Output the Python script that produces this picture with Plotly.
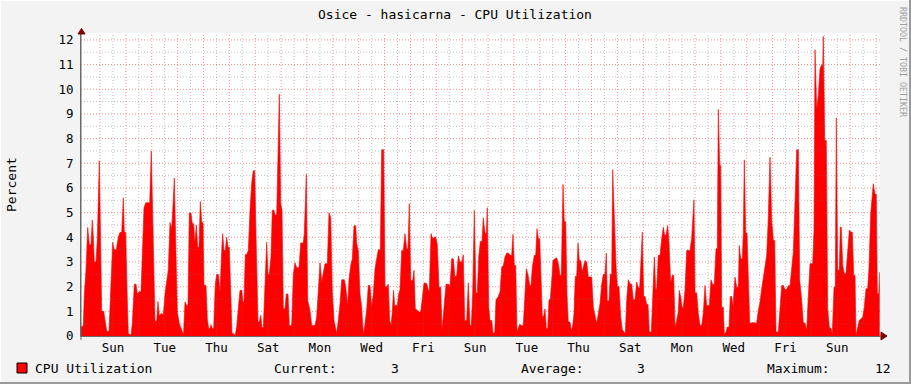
import plotly.graph_objects as go

# ---------------- data (one RRD sample column ~ 55.7 min) ----------------
sample_idx = [
 0,2.3,3.3,5,6.7,8.3,10,11.3,12.3,13.3,15,16.3,18.3,19.7,20.7,22.7,24,25.7,28,29.3,30.7,31.7,33.3,35.3,37.3,39,40.7,42.3,43.3,44.7,46,47.3,50,51.3,53.3,55,56.3,58.3,60,61.3,63,64.7,68.7,70.3,71.7,72.7,74,75.7,77,78.3,79.7,81.3,82.3,84,86,87.3,89,90.7,92,93.3,95,96.3,98.3,100.7,102.5,
 104,105.7,107,108.3,110,111.3,112.7,113.7,115.3,116.7,118,119.3,120.7,122,123,125,126.3,127.7,129,130,131.3,132.7,134.3,135.7,137.3,139,140.7,141.7,143,144.3,145.7,147,148.3,149.7,151,152.3,154.3,155.7,157.3,159,160.7,162,163,164.3,165.7,167.3,169,170.7,172.3,173.7,175.3,177,178.3,179.7,181,182.3,184,185.7,187,188.3,190,191.3,193,194,195.7,196.7,198.3,199.7,201,202.3,204,205.3,207,
 208.3,210.7,212.3,214,215.7,218,219.7,222.3,223.3,225.3,226.7,229,230.7,234,235.7,237.3,239,240.7,242.7,244,246.3,248,249.7,251.3,253,255.7,257.3,259,260.7,263.3,264.7,266.7,268,269.7,271.3,273,274.7,275.7,277.3,279,280.7,282.3,284,285.7,287.3,289,290.7,292.3,294,295.7,297.3,299.3,300.7,302.7,304,305.7,307.3,308.7,310,311.3,312.5,
 313.7,316.3,317.7,319,320.7,322.3,324,325.7,327,328.3,329.7,331.7,333,334.3,336.3,338.3,339.7,341.3,343,345.7,347.3,348.3,350,351.7,353.3,354.7,356.3,358,359.7,361,363,365,367.7,369,370.7,372.3,374,375.7,377.3,379,380.7,382.3,383.7,385.7,387.3,389,390.3,391.7,393.3,395,396.3,397.7,399.3,401,402.3,404,405.3,406.3,407.7,409,410.7,412,413.7,415,417,419,
 420.7,422.3,424,425.7,427.3,429,430.7,432,433.3,434.7,436,437.3,438.7,440.7,442.3,443.7,445.3,447,448.7,450,451.3,453.3,454.7,456,457.3,458.7,460,461.3,462.7,464,465.3,466.7,468,469.3,470.7,472,474,475.7,477.3,479,480.3,482,483.3,484.7,486,487.3,489,490.3,491.7,493,494.3,495.7,497,498.3,499.7,501.3,502.7,504,505.7,507.3,509,510.7,512.3,514,515.7,517.3,519,520.7,522.3,
 524,525.3,526.3,528,529.3,530.7,531.7,533.3,535,536.3,538,539.7,541.3,543,544.3,545.7,547.3,549,550.7,552.3,554,555.7,557.3,558.7,559.7,561.3,562.7,564,565.7,567,568.3,570.3,571.7,573.3,574.7,575.7,577.3,579,580.7,582.3,583.7,585,586.7,588,589.7,591.3,592.7,594,595.7,597.3,598.3,599.7,601,602.3,604,605.7,609,610.7,613,614,615.7,617.3,619,620.7,622.3,624,625.7,628.3,
 630,631.7,633.3,635,636.3,637.3,638.7,639.7,640.7,642.3,643.3,645,646.3,648,649.3,650.7,652,654,655.7,657.3,658.3,659.7,661.3,662.3,663.3,664.7,666,667.3,668.7,670.7,672.3,674,675.7,677.3,679,680.7,682.3,684,685.7,687.3,689,690.7,692.3,693.7,695,697.3,699,700.7,702.3,704,705.7,707.3,709,710.7,712.3,714,715.7,717.3,718.7,
 720.7,722.3,724,725.7,727.3,729,731.7,733,734,735.7,737.3,739,740.7,741.7,742.3,743.7,745.3,746.7,748.3,750,751.3,753,754.3,755.3,756.7,758.3,759.3,760.3,761.7,763.3,765,766.7,768.3,770,771.3,772.7,774,775,776.7,778.3,780,781.7,783.3,785,786.7,788,789.7,791,792.3,794,795.3,796.3,797.7,798.7,
]
cpu_pct = [
 0.36,0.43,1.65,2.7,4.4,3.7,3.7,4.7,4.0,3.0,3.0,3.9,7.1,3.3,1.0,1.0,0.57,0.19,0.19,1.4,2.9,3.8,3.5,3.5,4.0,4.2,4.2,5.6,4.2,4.2,1.9,0.1,0.03,0.5,2.1,2.1,1.7,1.8,1.78,3.4,5.2,5.4,5.4,7.5,4.75,2.3,0.6,0.6,1.4,0.8,0.9,0.9,0.85,1.7,2.25,2.7,4.6,4.35,5.3,6.4,3.3,0.97,0.5,0.2,0.05,
 1.38,1.24,1.24,4.98,4.98,4.55,4.55,3.74,4.5,3.6,3.6,5.45,4.6,4.6,2.05,2.05,0.7,0.3,0.3,0.46,0.3,0.3,2.1,2.5,2.5,1.78,3.47,4.15,3.47,3.47,4.0,3.6,3.6,1.7,0.1,0.1,0.03,0.4,1.1,1.85,1.85,1.38,1.38,3.3,3.3,3.47,5.1,6.2,6.7,6.7,3.54,0.57,0.57,0.84,0.34,0.34,2.05,3.8,2.5,2.5,3.2,5.1,5.1,4.9,4.9,7.1,9.8,5.36,5.1,1.1,1.1,1.7,1.7,
 0.43,0.43,2.5,2.97,2.77,2.77,3.77,3.77,4.15,6.55,1.44,1.04,0.43,0.43,0.77,1.96,2.97,2.2,2.66,2.93,2.93,5.0,4.8,1.78,0.63,0.1,0.63,1.3,2.28,2.28,2.0,1.24,2.3,2.86,3.13,4.47,4.47,3.74,3.47,1.7,1.15,0.03,0.5,1.07,2.05,2.05,1.17,1.7,2.73,3.1,3.5,3.5,7.55,7.55,2.0,2.0,2.1,0.63,0.43,0.97,1.85,
 1.24,1.24,1.7,1.88,3.47,3.47,4.15,3.54,3.54,5.36,2.25,2.25,2.66,1.1,1.04,0.97,0.97,1.7,2.15,2.13,1.85,1.85,4.15,3.94,4.0,4.0,3.71,1.98,1.98,0.23,1.34,2.1,2.1,2.01,3.13,3.13,2.39,2.46,3.25,3.0,3.0,3.29,0.63,0.63,2.16,0.43,0.43,1.74,5.09,1.74,1.74,3.2,3.83,3.83,4.79,4.15,4.15,5.2,1.17,0.63,0.63,0.12,0.12,1.47,1.58,1.78,
 2.79,2.86,3.2,3.36,3.36,3.27,3.27,4.12,2.86,2.86,0.16,0.3,0.47,0.43,0.43,1.47,2.73,2.48,2.05,2.05,2.77,3.27,3.27,4.35,3.94,3.94,2.08,0.8,0.8,1.1,0.3,0.3,1.47,1.47,2.25,3.06,3.13,3.17,2.93,2.46,2.46,6.14,4.62,4.62,1.65,0.57,0.57,0.2,0.43,0.9,2.42,2.42,3.77,3.06,3.06,2.58,2.86,3.06,3.0,2.39,2.39,2.39,1.17,0.8,0.5,0.9,1.31,2.1,2.5,
 2.5,3.36,1.42,1.42,2.5,2.5,6.74,4.44,2.86,2.01,2.01,0.77,0.26,0.16,0.1,1.47,2.28,2.12,2.1,1.47,1.47,2.19,1.96,1.96,3.0,4.21,1.6,1.6,1.28,1.28,0.16,0.16,1.51,3.2,1.92,1.92,3.27,3.27,3.94,4.41,4.08,4.08,4.48,3.74,2.15,2.46,2.46,0.36,0.63,0.97,1.85,1.58,1.17,1.17,1.85,3.47,3.47,3.98,5.52,1.75,1.75,0.9,0.43,0.43,0.93,2.05,1.24,1.24,
 2.28,2.09,2.09,3.54,3.54,9.18,6.91,6.91,1.17,1.17,0.07,0.16,0.36,0.36,1.6,1.6,1.2,2.39,1.98,1.98,3.67,3.13,3.13,4.15,7.14,4.17,4.17,2.46,0.53,0.53,0.55,0.53,0.53,1.04,1.38,1.92,2.36,2.83,3.27,4.82,7.25,4.68,3.87,3.87,0.16,0.16,1.1,2.05,2.05,1.88,1.88,2.04,2.04,2.69,3.4,5.43,7.55,7.55,2.28,
 1.44,0.53,0.53,0.23,1.6,2.93,2.93,4.28,11.6,9.2,9.75,10.83,11.0,10.9,12.14,7.92,7.92,1.1,0.36,0.3,0.1,1.98,1.98,8.84,2.66,2.66,4.41,4.41,2.86,2.52,2.52,3.4,4.28,4.21,4.21,2.46,2.46,0.03,0.3,0.63,0.7,0.77,1.17,1.92,1.92,2.77,4.95,5.56,6.17,5.74,5.74,1.71,1.71,2.59,
]
day_labels = ["Sun", "Tue", "Thu", "Sat", "Mon", "Wed", "Fri",
              "Sun", "Tue", "Thu", "Sat", "Mon", "Wed", "Fri", "Sun"]
y_ticks = list(range(0, 13))
title_text = "Osice - hasicarna - CPU Utilization"
series_name = "CPU Utilization"
stat_names = ["Current:", "Average:", "Maximum:"]
stat_values = ["3", "3", "12"]

# ---------------- axis configuration ----------------
n_samples = 799            # width of the time axis in samples
first_midnight = 19.0      # sample index of first day boundary
samples_per_day = 25.87
n_days = 31
y_max = 12.28

W, H = 911, 384
L, R, T, B = 81, 31, 33, 48
PW, PH = W - L - R, H - T - B

def px(x):
    return (x - L) / PW

def py(y):
    return (H - B - y) / PH

FONT = "DejaVu Sans Mono"
AXIS_COL = "#6A6A6A"
ARROW_COL = "#7F0000"

label_pos = [first_midnight + samples_per_day * (2 * k + 0.5) for k in range(len(day_labels))]

fig = go.Figure()
fig.add_trace(go.Scatter(
    x=sample_idx, y=cpu_pct, mode="lines", fill="tozeroy",
    fillcolor="#FF0000", line=dict(color="#FF0000", width=0.6),
    hoverinfo="skip", showlegend=False,
))

major_grid = "rgba(255,0,0,0.45)"
minor_grid = "rgba(110,110,110,0.42)"
DOT = "1px,2px"

fig.update_layout(
    width=W, height=H, autosize=False,
    margin=dict(l=L, r=R, t=T, b=B, pad=0),
    paper_bgcolor="#F3F3F3", plot_bgcolor="#FFFFFF",
    font=dict(family=FONT, size=13, color="#000000"),
    xaxis=dict(range=[0, n_samples], tickmode="array", tickvals=label_pos, ticktext=day_labels,
               ticks="", showgrid=False, zeroline=False,
               showline=True, linecolor=AXIS_COL, linewidth=1,
               tickfont=dict(family=FONT, size=12.5, color="#000000")),
    yaxis=dict(range=[0, y_max], tickmode="array", tickvals=y_ticks,
               showgrid=False, zeroline=False, showline=True, linecolor=AXIS_COL, linewidth=1,
               ticks="outside", ticklen=4, tickcolor="rgba(0,0,0,0)",
               tickfont=dict(family=FONT, size=12.5, color="#000000")),
)

shapes = []
# grid drawn above the area, as RRDtool does
for d in range(n_days):
    for half, col in ((0.5, minor_grid), (0.0, major_grid)):
        xv = first_midnight + samples_per_day * (d + half)
        if 0 < xv < n_samples:
            shapes.append(dict(type="line", layer="above", xref="x", yref="paper",
                               x0=xv, x1=xv, y0=0, y1=1, line=dict(color=col, width=1, dash=DOT)))
for v in y_ticks:
    for half, col in ((0.5, minor_grid), (0.0, major_grid)):
        yv = v + half
        if 0 < yv < y_max:
            shapes.append(dict(type="line", layer="above", xref="paper", yref="y",
                               x0=0, x1=1, y0=yv, y1=yv, line=dict(color=col, width=1, dash=DOT)))

# axis extensions and arrow heads
def tri(points):
    p = [f"{px(a)},{py(b)}" for a, b in points]
    return "M " + " L ".join(p) + " Z"

shapes += [
    dict(type="line", xref="paper", yref="paper", x0=1, x1=px(884), y0=0, y1=0,
         line=dict(color=AXIS_COL, width=1)),
    dict(type="line", xref="paper", yref="paper", x0=0, x1=0, y0=py(340), y1=1,
         line=dict(color=AXIS_COL, width=1)),
    dict(type="path", xref="paper", yref="paper", path=tri([(881, 332), (887, 336), (881, 340)]),
         fillcolor=ARROW_COL, line=dict(color=ARROW_COL, width=1)),
    dict(type="path", xref="paper", yref="paper", path=tri([(78, 34), (81.5, 28.5), (85, 34)]),
         fillcolor=ARROW_COL, line=dict(color=ARROW_COL, width=1)),
]
# legend colour box
shapes.append(dict(type="rect", xref="paper", yref="paper", x0=px(17), x1=px(27), y0=py(373), y1=py(363),
                   fillcolor="#FF0000", line=dict(color="#000000", width=1)))
# 3D frame of the image
shapes += [
    dict(type="line", xref="paper", yref="paper", x0=px(0), x1=px(W), y0=py(0.5), y1=py(0.5),
         line=dict(color="#FFFFFF", width=1)),
    dict(type="line", xref="paper", yref="paper", x0=px(0.5), x1=px(0.5), y0=py(0), y1=py(H),
         line=dict(color="#FFFFFF", width=1)),
    dict(type="line", xref="paper", yref="paper", x0=px(0), x1=px(W), y0=py(H - 1), y1=py(H - 1),
         line=dict(color="#9A9A9A", width=2)),
    dict(type="line", xref="paper", yref="paper", x0=px(W - 1), x1=px(W - 1), y0=py(0), y1=py(H),
         line=dict(color="#9A9A9A", width=2)),
]
fig.update_layout(shapes=shapes)

ann = []
ann.append(dict(text=title_text, x=px(455), y=py(14), xref="paper", yref="paper",
                showarrow=False, xanchor="center", yanchor="middle",
                font=dict(family=FONT, size=13, color="#000000")))
ann.append(dict(text="Percent", x=px(11), y=py(185), xref="paper", yref="paper",
                showarrow=False, xanchor="center", yanchor="middle", textangle=-90,
                font=dict(family=FONT, size=13, color="#000000")))
ann.append(dict(text="RRDTOOL / TOBI OETIKER", x=px(903), y=py(5), xref="paper", yref="paper",
                showarrow=False, xanchor="center", yanchor="top", textangle=90,
                font=dict(family=FONT, size=8.3, color="#A0A0A0")))
ann.append(dict(text=series_name, x=px(33), y=py(368), xref="paper", yref="paper",
                showarrow=False, xanchor="left", yanchor="middle",
                font=dict(family=FONT, size=13, color="#000000")))
name_x = [272, 519, 765]
val_right = [401, 647, 893]
for nm, vx, vr, vv in zip(stat_names, name_x, val_right, stat_values):
    ann.append(dict(text=nm, x=px(vx), y=py(368), xref="paper", yref="paper",
                    showarrow=False, xanchor="left", yanchor="middle",
                    font=dict(family=FONT, size=13, color="#000000")))
    ann.append(dict(text=vv, x=px(vr), y=py(368), xref="paper", yref="paper",
                    showarrow=False, xanchor="right", yanchor="middle",
                    font=dict(family=FONT, size=13, color="#000000")))
fig.update_layout(annotations=ann)

fig.write_html("out.html")
